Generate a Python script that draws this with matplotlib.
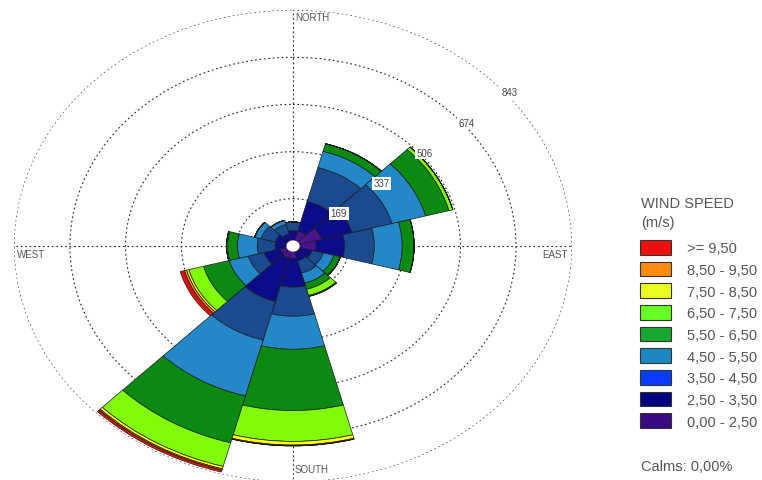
import matplotlib.pyplot as plt
import numpy as np
from matplotlib.patches import Patch

plt.rcParams['font.family'] = ['Liberation Sans', 'DejaVu Sans']

# direcciones (12 sectores de 30 grados, desde el norte en sentido horario)
directions = ['N', 'NNE', 'ENE', 'E', 'ESE', 'SSE', 'S', 'SSW', 'WSW', 'W', 'WNW', 'NNW']
dir_deg = [0, 30, 60, 90, 120, 150, 180, 210, 240, 270, 300, 330]

# conteos por clase de velocidad (m/s) y direccion
c_00_25 = [18, 55, 90, 70, 25, 25, 45, 45, 40, 20, 20, 20]
c_25_35 = [37, 110, 95, 86, 35, 30, 102, 160, 50, 34, 35, 25]
c_35_45 = [31, 125, 125, 90, 35, 45, 104, 143, 50, 54, 45, 35]
c_45_55 = [0, 60, 105, 84, 33, 37, 118, 207, 60, 60, 20, 15]
c_55_65 = [0, 28, 73, 36, 20, 23, 219, 173, 80, 30, 0, 0]
c_65_75 = [0, 0, 12, 0, 0, 23, 110, 87, 46, 3, 0, 0]
c_75_85 = [0, 0, 0, 0, 0, 3, 13, 9, 7, 0, 0, 0]
c_85_95 = [0, 0, 0, 0, 0, 0, 3, 4, 7, 0, 0, 0]
c_95 = [0, 0, 0, 0, 0, 0, 0, 8, 13, 0, 0, 0]

speed_labels = ['0,00 - 2,50', '2,50 - 3,50', '3,50 - 4,50', '4,50 - 5,50',
                '5,50 - 6,50', '6,50 - 7,50', '7,50 - 8,50', '8,50 - 9,50', '>= 9,50']
ring_values = [169, 337, 506, 674, 843]
calms = 'Calms: 0,00%'

bins = [c_00_25, c_25_35, c_35_45, c_45_55, c_55_65, c_65_75, c_75_85, c_85_95, c_95]
bar_colors = ['#4b1490', '#0c0c8a', '#1b4a8e', '#2388c8', '#0b8a12',
              '#80fc06', '#ffff14', '#ff8c00', '#dd1010']
legend_colors = ['#3a0a80', '#000080', '#0a3cff', '#1a88c0', '#18a830',
                 '#66ff22', '#e8ff20', '#ff8c10', '#ee1111']

fig = plt.figure(figsize=(7.62, 4.81), dpi=100)
ax = fig.add_axes([14 / 762, -2 / 481, 558 / 762, 472 / 481], projection='polar')
ax.set_aspect('auto')  # rosa eliptica como en el original
ax.set_theta_zero_location('N')
ax.set_theta_direction(-1)

theta = np.deg2rad(dir_deg)
width = np.deg2rad(30)
bottom = np.zeros(len(dir_deg))
for vals, col in zip(bins, bar_colors):
    vals = np.array(vals, dtype=float)
    ax.bar(theta, vals, width=width, bottom=bottom, color=col,
           edgecolor='#1a1a1a', linewidth=0.5, zorder=2)
    bottom += vals

# circulo de calmas
ax.bar(0, 20, width=2 * np.pi, bottom=0, color='white', edgecolor='none', zorder=3)

ax.set_ylim(0, 843)
ax.set_yticks(ring_values)
ax.set_yticklabels([])
ax.set_xticks(np.deg2rad([0, 90, 180, 270]))
ax.set_xticklabels([])
ax.set_axisbelow(True)
ax.grid(True, color='#222222', linestyle=(0, (1.5, 2.5)), linewidth=0.8)
ax.spines['polar'].set_visible(False)

for v in ring_values:
    ax.text(np.deg2rad(50), v + 12, str(v), fontsize=7, color='#444444',
            ha='center', va='center', zorder=4,
            bbox=dict(boxstyle='square,pad=0.15', fc='white', ec='none'))

txt = dict(fontsize=7, color='#555555', va='center', textcoords='offset points')
ax.annotate('NORTH', xy=(0, 843), xytext=(1.4, -5.4), ha='left', **txt)
ax.annotate('SOUTH', xy=(np.pi, 843), xytext=(1.4, 9.7), ha='left', **txt)
ax.annotate('WEST', xy=(np.deg2rad(270), 843), xytext=(2.2, -6.1), ha='left', **txt)
ax.annotate('EAST', xy=(np.deg2rad(90), 843), xytext=(-2.9, -6.1), ha='right', **txt)

# leyenda
fig.text(641 / 762, 1 - 204 / 481, 'WIND SPEED', fontsize=10.5, color='#555555', va='center')
fig.text(641 / 762, 1 - 223 / 481, '(m/s)', fontsize=10.5, color='#555555', va='center')
handles = [Patch(facecolor=c, edgecolor='#333333', linewidth=0.8) for c in legend_colors[::-1]]
fig.legend(handles, speed_labels[::-1], loc='upper left',
           bbox_to_anchor=(640 / 762, 1 - 241 / 481), frameon=False,
           fontsize=10.5, labelcolor='#555555', handlelength=2.12, handleheight=1.165,
           labelspacing=0.44, handletextpad=1.1, borderpad=0, borderaxespad=0)
fig.text(641 / 762, 1 - 467 / 481, calms, fontsize=10.5, color='#555555', va='center')

plt.savefig('out.png', dpi=100, facecolor='white')
